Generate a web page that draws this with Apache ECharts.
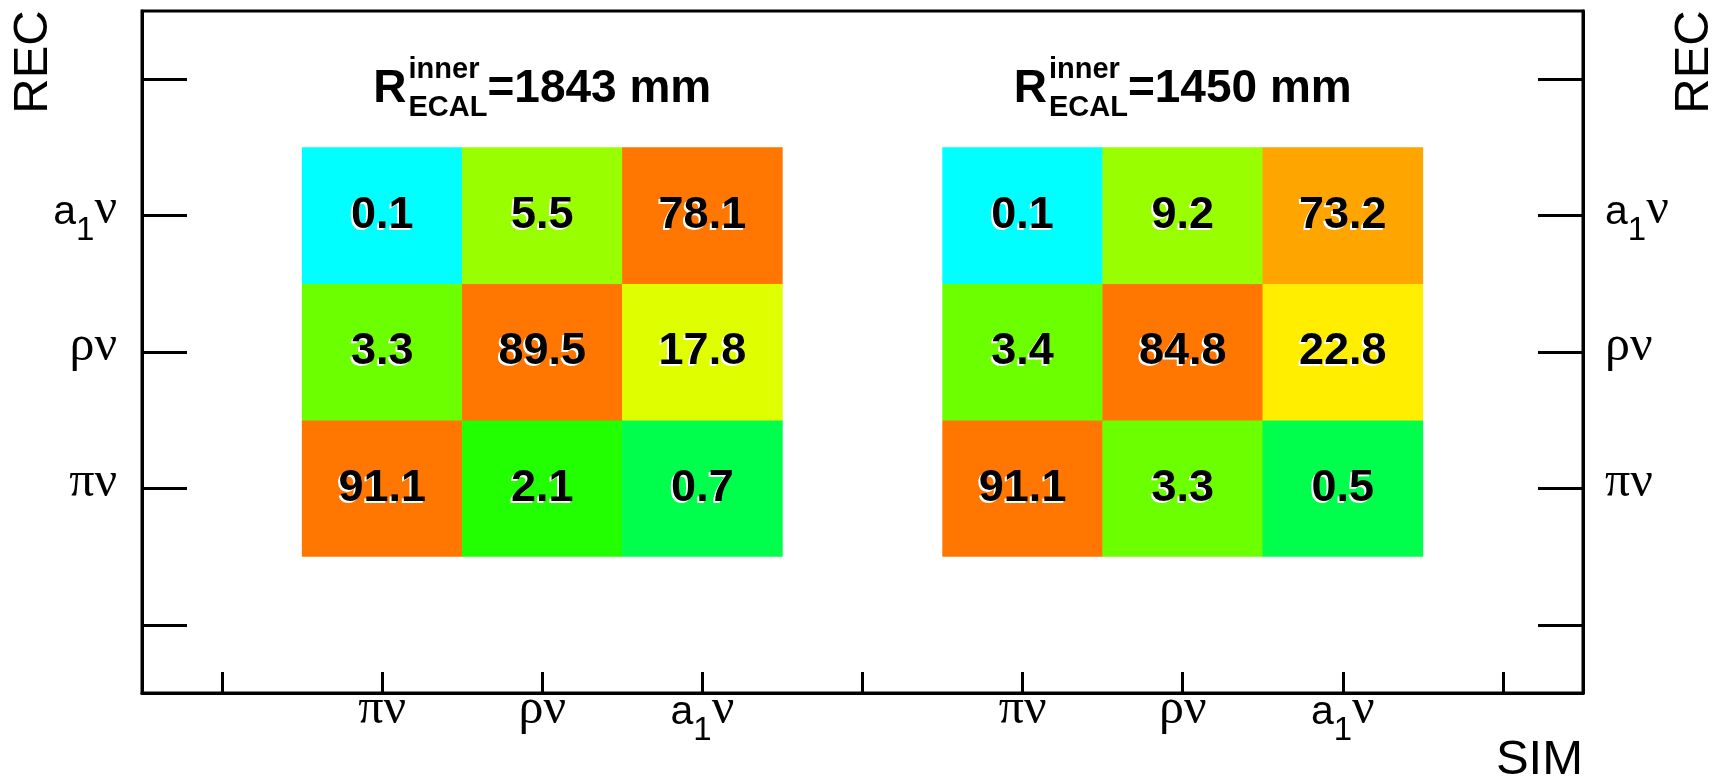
<!DOCTYPE html>
<html>
<head>
<meta charset="utf-8">
<script src="https://cdn.jsdelivr.net/npm/echarts@6/dist/echarts.min.js"></script>
<style>
  html, body { margin: 0; padding: 0; background: #fff; }
  #chart { width: 1722px; height: 781px; }
</style>
</head>
<body>
<div id="chart"></div>
<script>
// Tau decay-mode migration matrices: generated mode (SIM) vs reconstructed mode (REC), in %
const simTickLabels = ['', 'πν', 'ρν', 'a₁ν', '', 'πν', 'ρν', 'a₁ν', ''];
const recTickLabels = ['', 'πν', 'ρν', 'a₁ν', ''];

// rows = REC (πν, ρν, a₁ν), columns = SIM (πν, ρν, a₁ν)
const eff1843 = [
  [91.1, 2.1, 0.7],
  [3.3, 89.5, 17.8],
  [0.1, 5.5, 78.1]
];
const eff1450 = [
  [91.1, 3.3, 0.5],
  [3.4, 84.8, 22.8],
  [0.1, 9.2, 73.2]
];
const radii = ['1843', '1450'];          // inner ECAL radius of each block, mm
const blockStart = [1, 5];               // first x slot of each block

// colour bands of the z scale (percent)
const bandEdges  = [0, 0.3, 1.5, 2.8, 4.5, 12, 20, 40, 76, 100.01];
const bandColors = ['#00ffff', '#00ff4c', '#22ff00', '#6cff00', '#99ff00',
                    '#dfff00', '#ffee00', '#ffa500', '#ff7700'];

const SANS = '"Liberation Sans", Arial, Helvetica, sans-serif';
const NARROW = '"Liberation Sans Narrow", "Arial Narrow", "Liberation Sans", sans-serif';
const SERIF = '"Liberation Serif", "Times New Roman", serif';

const cells = [];
[eff1843, eff1450].forEach((m, b) => {
  m.forEach((row, r) => {
    row.forEach((v, c) => cells.push([blockStart[b] + c, 1 + r, v]));
  });
});

const pieces = bandColors.map((color, i) => ({ gte: bandEdges[i], lt: bandEdges[i + 1], color }));

// latin letters in sans, greek in serif, '₁' as a lowered small digit
function richLabel(s) {
  let out = '';
  for (const ch of s) {
    if (ch === '₁') out += '{s|1}';
    else if (/[a-z]/.test(ch)) out += '{a|' + ch + '}';
    else out += '{g|' + ch + '}';
  }
  return out;
}
const tickRich = {
  a: { fontFamily: NARROW, fontSize: 41, lineHeight: 46, padding: [5, 0, 0, 0], color: '#000' },
  g: { fontFamily: SERIF, fontSize: 50, lineHeight: 46, color: '#000' },
  s: { fontFamily: NARROW, fontSize: 33, lineHeight: 33, padding: [42, 0, 0, 0], color: '#000' }
};

const AX = { lineStyle: { color: '#000', width: 3 } };

const chart = echarts.init(document.getElementById('chart'), null, { renderer: 'canvas' });

chart.setOption({
  animation: false,
  backgroundColor: '#fff',
  grid: {
    left: 142, right: 139, top: 11, bottom: 88,
    show: true, borderColor: '#000', borderWidth: 3, backgroundColor: 'transparent',
    outerBoundsMode: 'none'
  },
  xAxis: {
    type: 'category',
    data: simTickLabels,
    axisLine: AX,
    axisTick: { show: true, inside: true, length: 21, alignWithLabel: true, interval: 0, lineStyle: { color: '#000', width: 3 } },
    axisLabel: {
      interval: 0, margin: 17, verticalAlign: 'middle',
      formatter: (v) => richLabel(v), rich: tickRich
    },
    splitLine: { show: false }
  },
  yAxis: [0, 1].map(i => ({
    type: 'category',
    data: recTickLabels,
    position: i === 0 ? 'left' : 'right',
    axisLine: AX,
    axisTick: { show: true, inside: true, length: 45, alignWithLabel: true, interval: 0, lineStyle: { color: '#000', width: 3 } },
    axisLabel: {
      interval: 0, margin: i === 0 ? 25 : 22, padding: [0, 0, 11, 0],
      align: i === 0 ? 'right' : 'left',
      formatter: (v) => richLabel(v), rich: tickRich
    },
    splitLine: { show: false }
  })),
  visualMap: {
    type: 'piecewise', show: false, dimension: 2, seriesIndex: 0, pieces
  },
  series: [{
    type: 'heatmap',
    xAxisIndex: 0, yAxisIndex: 0,
    data: cells,
    itemStyle: { borderWidth: 0 },
    emphasis: { disabled: true },
    label: {
      show: true,
      formatter: (p) => p.value[2].toFixed(1),
      color: '#000',
      fontFamily: SANS, fontWeight: 'bold', fontSize: 45,
      textShadowColor: '#fff', textShadowOffsetX: -2, textShadowOffsetY: 2, textShadowBlur: 0.5
    }
  }]
});

// block titles  R^{inner}_{ECAL}=... mm  centred over each block
const mctx = document.createElement('canvas').getContext('2d');
function tw(str, font) { mctx.font = font; return mctx.measureText(str).width; }
const fMain = 'bold 46px ' + SANS;
const fSmall = 'bold 29px ' + SANS;

const graphics = [];
radii.forEach((rad, b) => {
  const cx = chart.convertToPixel({ xAxisIndex: 0 }, blockStart[b] + 1);
  const yTop = chart.convertToPixel({ yAxisIndex: 0 }, 4);
  const tail = '=' + rad + ' mm';
  const wR = tw('R', fMain);
  const wIdx = Math.max(tw('inner', fSmall), tw('ECAL', fSmall));
  const wTail = tw(tail, fMain);
  const total = wR + 2 + wIdx + wTail;
  const x0 = cx - total / 2;
  const yMain = yTop + 10;
  graphics.push(
    { type: 'text', x: x0, y: yMain, style: { text: 'R', font: fMain, fill: '#000', align: 'left', verticalAlign: 'middle' } },
    { type: 'text', x: x0 + wR + 2, y: yTop - 9, style: { text: 'inner', font: fSmall, fill: '#000', align: 'left', verticalAlign: 'middle' } },
    { type: 'text', x: x0 + wR + 2, y: yTop + 29, style: { text: 'ECAL', font: fSmall, fill: '#000', align: 'left', verticalAlign: 'middle' } },
    { type: 'text', x: x0 + wR + 2 + wIdx, y: yMain, style: { text: tail, font: fMain, fill: '#000', align: 'left', verticalAlign: 'middle' } }
  );
});

// axis titles
const fTitle = '49px ' + SANS;
graphics.push(
  { type: 'text', x: 33, y: 62, rotation: Math.PI / 2, style: { text: 'REC', font: fTitle, fill: '#000', align: 'center', verticalAlign: 'middle' } },
  { type: 'text', x: 1694, y: 62, rotation: Math.PI / 2, style: { text: 'REC', font: fTitle, fill: '#000', align: 'center', verticalAlign: 'middle' } },
  { type: 'text', x: 1583, y: 760, style: { text: 'SIM', font: fTitle, fill: '#000', align: 'right', verticalAlign: 'middle' } }
);

chart.setOption({ graphic: graphics });
</script>
</body>
</html>
